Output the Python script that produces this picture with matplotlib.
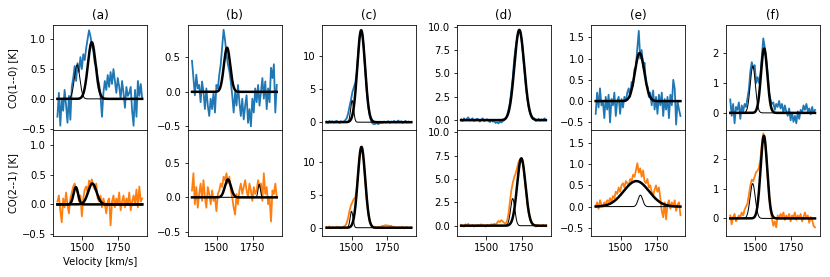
import numpy as np
import matplotlib
matplotlib.use("Agg")
import matplotlib.pyplot as plt

# Velocity channels (km/s)
v0, dv, nch = 1326, 10, 60
velocity = v0 + dv * np.arange(nch)

panel_titles = ["(a)", "(b)", "(c)", "(d)", "(e)", "(f)"]
row_labels = ["CO(1--0) [K]", "CO(2--1) [K]"]
xticks = [1500, 1750]

co10_a = [-0.3, 0.1, -0.45, 0.0, -0.2, 0.15, -0.1, -0.4, 0.05, -0.35,
          0.2, 0.35, 0.55, 0.3, 0.6, 0.45, 0.7, 0.5, 0.75, 0.65,
          0.85, 1.0, 1.15, 1.05, 0.9, 0.8, 0.6, 0.55, 0.35, 0.25,
          0.05, -0.3, 0.1, 0.3, 0.15, 0.4, 0.2, 0.45, 0.25, 0.5,
          0.3, 0.1, 0.35, 0.2, 0.0, 0.3, 0.1, -0.15, 0.2, 0.05,
          0.1, 0.2, -0.2, -0.45, 0.15, -0.3, 0.3, 0.05, 0.25, 0.0]
co10_b = [0.45, 0.2, -0.05, 0.25, 0.05, 0.1, -0.15, 0.15, 0.0, -0.25,
          0.05, -0.2, -0.35, -0.1, -0.25, 0.0, -0.3, 0.1, 0.05, 0.25,
          0.4, 0.65, 0.9, 0.75, 0.55, 0.4, 0.3, 0.15, -0.05, -0.3,
          0.0, -0.2, 0.1, -0.15, -0.35, -0.1, -0.4, -0.2, -0.05, -0.45,
          -0.25, -0.5, -0.1, -0.3, 0.05, -0.15, 0.1, -0.2, 0.0, 0.2,
          -0.1, 0.15, -0.25, 0.05, -0.15, 0.35, 0.2, 0.4, -0.3, 0.1]
co10_c = [0.1, -0.1, 0.2, 0.0, 0.15, -0.05, 0.1, 0.2, 0.05, -0.1,
          0.15, 0.0, 0.1, 0.3, 0.6, 1.3, 2.4, 3.4, 4.6, 5.3,
          6.0, 7.5, 10.5, 13.0, 13.8, 13.4, 11.0, 7.7, 4.8, 2.5,
          1.0, 0.2, -0.2, -0.3, -0.25, -0.1, -0.3, -0.15, 0.0, -0.1,
          0.1, -0.05, 0.05, 0.15, -0.1, 0.1, 0.0, 0.2, -0.05, 0.1,
          0.25, 0.0, 0.15, -0.1, 0.05, 0.2, -0.05, 0.1, 0.0, 0.05]
co10_d = [0.1, -0.1, 0.2, 0.0, 0.15, 0.3, -0.05, 0.1, 0.2, -0.1,
          0.05, 0.15, 0.1, -0.15, 0.05, 0.2, -0.1, 0.0, 0.1, -0.05,
          -0.2, 0.05, -0.15, -0.1, -0.3, -0.2, -0.35, -0.1, -0.25, -0.1,
          0.0, 0.15, 0.5, 1.1, 1.9, 3.2, 4.6, 6.6, 7.8, 8.8,
          9.5, 9.6, 8.7, 7.2, 5.5, 3.8, 2.4, 1.4, 0.7, 0.3,
          0.1, 0.2, -0.1, 0.0, 0.15, -0.05, 0.1, 0.0, 0.2, 0.05]
co10_e = [-0.3, 0.2, -0.15, 0.3, -0.1, 0.0, -0.4, 0.1, -0.2, 0.15,
          -0.5, 0.05, -0.1, 0.2, -0.35, 0.0, 0.1, -0.3, 0.05, -0.15,
          0.1, 0.0, 0.2, 0.3, 0.1, 0.45, 0.35, 0.75, 0.8, 1.25,
          1.65, 1.0, 1.2, 0.8, 0.9, 0.4, 0.35, 0.1, 0.2, -0.1,
          0.25, -0.2, 0.1, -0.3, 0.15, -0.1, 0.2, -0.35, 0.05, -0.2,
          0.1, -0.4, 0.15, -0.1, 0.5, 0.3, -0.55, 0.0, -0.2, -0.35]
co10_f = [0.45, -0.1, 0.3, -0.35, 0.2, 0.1, 0.35, -0.2, 0.25, 0.05,
          0.3, 0.2, 0.5, 0.8, 1.4, 1.7, 1.5, 1.6, 1.0, 1.2,
          1.0, 1.3, 1.9, 2.5, 2.2, 1.8, 1.3, 0.7, 0.45, 0.3,
          0.35, 0.1, 0.3, 0.2, 0.4, 0.15, 0.3, 0.0, 0.25, 0.05,
          -0.1, 0.15, -0.25, 0.0, -0.3, -0.1, -0.35, 0.05, -0.2, 0.1,
          0.0, 0.25, 0.1, 0.3, 0.05, 0.15, -0.05, 0.2, 0.0, 0.1]

# Observed spectra, CO(2-1)
co21_a = [0.05, 0.15, -0.1, -0.3, 0.1, -0.05, 0.2, 0.0, -0.15, 0.1,
          0.2, 0.3, 0.35, 0.25, 0.2, 0.05, 0.15, -0.2, 0.1, 0.25,
          0.3, 0.2, 0.4, 0.35, 0.42, 0.3, 0.25, 0.35, 0.1, 0.05,
          0.15, -0.05, 0.1, 0.0, -0.15, 0.05, 0.1, -0.35, 0.05, 0.15,
          -0.05, 0.1, 0.0, 0.2, -0.1, 0.05, 0.15, -0.05, 0.1, 0.0,
          0.2, -0.1, 0.05, 0.15, 0.0, 0.25, -0.05, 0.3, 0.05, 0.1]
co21_b = [0.1, 0.35, -0.1, 0.15, -0.15, 0.05, 0.2, -0.05, 0.25, 0.0,
          -0.15, 0.15, 0.05, -0.1, 0.1, -0.05, 0.0, -0.2, 0.05, 0.1,
          0.2, 0.15, 0.3, 0.25, 0.35, 0.2, 0.3, 0.1, 0.0, -0.15,
          -0.25, 0.05, -0.1, 0.1, 0.2, 0.05, 0.15, 0.25, 0.1, 0.0,
          0.2, 0.1, -0.05, 0.15, 0.05, 0.1, 0.25, 0.15, 0.2, -0.05,
          0.35, 0.05, 0.15, -0.1, 0.0, -0.35, 0.1, 0.05, 0.2, 0.0]
co21_c = [0.1, 0.0, 0.2, -0.1, 0.1, 0.05, -0.05, 0.15, 0.0, 0.1,
          -0.1, 0.05, 0.2, 0.3, 0.7, 1.5, 2.6, 3.4, 3.9, 4.4,
          4.6, 5.9, 8.4, 11.0, 12.3, 11.8, 9.8, 7.0, 4.3, 2.2,
          0.9, 0.4, 0.1, -0.05, 0.1, 0.0, 0.15, 0.05, 0.2, 0.3,
          0.25, 0.4, 0.3, 0.35, 0.2, 0.3, 0.1, 0.15, 0.0, 0.1,
          -0.05, 0.1, 0.0, 0.15, -0.1, 0.05, 0.1, -0.05, 0.0, 0.05]
co21_d = [0.1, 0.0, -0.1, 0.15, 0.05, 0.2, -0.05, 0.0, 0.1, -0.1,
          0.05, 0.0, 0.1, -0.05, 0.15, 0.0, 0.05, -0.1, 0.1, 0.0,
          0.05, 0.15, 0.1, 0.2, 0.1, 0.3, 0.5, 0.4, 0.6, 0.45,
          0.3, 0.2, 0.5, 1.3, 2.6, 3.8, 4.6, 5.2, 5.6, 6.2,
          6.8, 7.1, 7.2, 6.8, 5.4, 3.9, 2.5, 1.4, 0.7, 0.3,
          0.1, 0.05, -0.1, 0.1, 0.0, 0.05, -0.05, 0.1, 0.0, 0.05]
co21_e = [0.0, 0.1, -0.05, 0.15, 0.05, 0.0, 0.1, 0.05, 0.15, 0.1,
          0.2, 0.1, 0.25, 0.2, 0.35, 0.3, 0.45, 0.35, 0.5, 0.55,
          0.45, 0.6, 0.55, 0.5, 0.65, 0.6, 0.75, 0.7, 0.85, 1.02,
          0.8, 0.9, 0.7, 0.85, 0.6, 0.55, 0.65, 0.45, 0.5, 0.35,
          0.25, 0.4, 0.5, 0.35, 0.45, 0.2, -0.1, -0.25, 0.1, -0.3,
          0.05, 0.15, -0.05, 0.1, 0.0, 0.15, -0.1, 0.05, 0.1, -0.2]
co21_f = [0.1, -0.2, 0.05, 0.15, -0.1, 0.0, 0.1, 0.05, 0.2, 0.1,
          0.3, 0.4, 0.5, 0.8, 1.1, 1.3, 1.25, 1.4, 1.55, 1.6,
          1.7, 2.0, 2.5, 2.85, 2.7, 2.2, 1.4, 0.8, 0.3, 0.0,
          -0.25, -0.1, -0.3, 0.1, 0.0, 0.15, 0.05, 0.2, -0.05, 0.1,
          0.0, 0.15, -0.1, 0.1, 0.05, 0.2, -0.05, 0.1, 0.0, 0.15,
          -0.1, 0.05, 0.2, 0.0, 0.1, -0.15, 0.05, -0.05, -0.25, -0.3]

# Fitted Gaussian components: (amplitude, centre km/s, sigma km/s, thick?)
fit10_a = [(0.57, 1463, 19, False), (0.95, 1565, 27, True)]
fit10_b = [(0.64, 1570, 22, True)]
fit10_c = [(3.3, 1504, 10.5, False), (14.0, 1567, 27, True)]
fit10_d = [(9.65, 1731, 34, True)]
fit10_e = [(1.13, 1632, 33, True)]
fit10_f = [(1.56, 1483, 18, False), (2.16, 1562, 22, True)]

fit21_a = [(0.29, 1454, 16, True), (0.35, 1569, 29, True)]
fit21_b = [(0.26, 1576, 21, True), (0.19, 1794, 8, False)]
fit21_c = [(2.5, 1500, 10, False), (12.3, 1569, 26, True)]
fit21_d = [(2.9, 1685, 15, False), (7.2, 1745, 29, True)]
fit21_e = [(0.6, 1609, 88, True), (0.27, 1637, 16, False)]
fit21_f = [(1.17, 1482, 18, False), (2.77, 1560, 23, True)]

spectra = [[co10_a, co10_b, co10_c, co10_d, co10_e, co10_f],
           [co21_a, co21_b, co21_c, co21_d, co21_e, co21_f]]
fits = [[fit10_a, fit10_b, fit10_c, fit10_d, fit10_e, fit10_f],
        [fit21_a, fit21_b, fit21_c, fit21_d, fit21_e, fit21_f]]
ylims = [(-0.53, 1.24), (-0.56, 0.97), (-1.26, 14.8),
         (-1.1, 10.18), (-0.69, 1.79), (-0.59, 2.95)]
row_colors = ["#1f77b4", "#ff7f0e"]

fig = plt.figure(figsize=(830 / 72, 277 / 72), dpi=72)
gs = fig.add_gridspec(2, 6, left=0.064, right=0.988, top=0.910, bottom=0.148,
                      wspace=0.43, hspace=0.0)

vfine = np.linspace(velocity[0], velocity[-1], 600)

for col in range(6):
    top_ax = None
    for row in range(2):
        if row == 0:
            ax = fig.add_subplot(gs[row, col])
            top_ax = ax
        else:
            ax = fig.add_subplot(gs[row, col], sharex=top_ax, sharey=top_ax)
        ax.plot(velocity, spectra[row][col], color=row_colors[row], lw=1.8)
        for amp, cen, sig, thick in fits[row][col]:
            model = amp * np.exp(-0.5 * ((vfine - cen) / sig) ** 2)
            ax.plot(vfine, model, color="black", lw=2.5 if thick else 1.0)
        ax.set_xlim(1296, 1951)
        ax.set_ylim(*ylims[col])
        ax.set_xticks(xticks)
        if row == 0:
            ax.set_title(panel_titles[col])
            ax.tick_params(labelbottom=False)
        if col == 0:
            ax.set_ylabel(row_labels[row])
            if row == 1:
                ax.set_xlabel("Velocity [km/s]")

fig.savefig("out.png", dpi=72)
